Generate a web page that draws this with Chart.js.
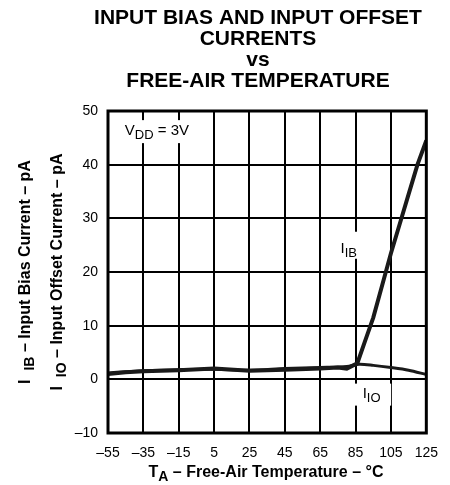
<!DOCTYPE html>
<html>
<head>
<meta charset="utf-8">
<script src="https://cdn.jsdelivr.net/npm/chart.js@4"></script>
<style>
  html, body { margin: 0; padding: 0; background: #fff; }
  #wrap { width: 450px; height: 485px; }
</style>
</head>
<body>
<div id="wrap"><canvas id="chart" width="450" height="485"></canvas></div>
<script>
const tempTicks = [-55, -35, -15, 5, 25, 45, 65, 85, 105, 125];

const ibTemps = [-55, -45, -35, -15, 5, 25, 45, 65, 75, 80, 86, 90, 95, 100, 105, 110, 115, 120, 125];
const ibValues = [1.0, 1.3, 1.5, 1.7, 2.0, 1.6, 1.8, 2.0, 2.2, 2.0, 3.0, 6.8, 11.5, 17.5, 23.5, 29, 34.5, 40, 44.5];

const iioTemps = [-55, -45, -35, -15, 5, 25, 45, 65, 80, 87, 95, 105, 115, 125];
const iioValues = [1.2, 1.4, 1.6, 1.8, 1.9, 1.7, 2.0, 2.2, 2.4, 2.8, 2.6, 2.2, 1.7, 0.9];

const titleLines = ["INPUT BIAS AND INPUT OFFSET", "CURRENTS", "vs", "FREE-AIR TEMPERATURE"];

const fontFamily = '"Liberation Sans", Arial, Helvetica, sans-serif';

const toPoints = (xs, ys) => xs.map((x, i) => ({x: x, y: ys[i]}));
const dash = (v) => String(v).replace('-', '\u2013');

// draw text made of parts, some of them subscripts
const drawRich = (ctx, parts, x, y, size, bold, align) => {
    const weight = bold ? 'bold ' : '';
    let total = 0;
    parts.forEach(p => {
        ctx.font = weight + (p.sub ? size - 2 : size) + 'px ' + fontFamily;
        p.w = ctx.measureText(p.t).width;
        total += p.w;
    });
    let cx = x;
    if (align === 'center') cx = x - total / 2;
    ctx.textAlign = 'left';
    ctx.textBaseline = 'alphabetic';
    parts.forEach(p => {
        ctx.font = weight + (p.sub ? size - 2 : size) + 'px ' + fontFamily;
        ctx.fillText(p.t, cx, p.sub ? y + 4 : y);
        cx += p.w;
    });
    return total;
};

const textPlugin = {
    id: 'texts',
    beforeDatasetsDraw(chart) {
        const ctx = chart.ctx;
        const xs = chart.scales.x, ys = chart.scales.y;
        ctx.save();
        ctx.fillStyle = '#fff';
        // white boxes behind the curve labels
        ctx.fillRect(xs.getPixelForValue(-47.5), ys.getPixelForValue(48.3), 71, 23);
        ctx.fillRect(xs.getPixelForValue(80.5), ys.getPixelForValue(27.5), 26, 27);
        ctx.fillRect(xs.getPixelForValue(82.5), ys.getPixelForValue(-0.8), 40, 22);
        ctx.fillStyle = '#000';
        drawRich(ctx, [{t: 'V'}, {t: 'DD', sub: true}, {t: ' = 3V'}],
                 xs.getPixelForValue(-45.5), ys.getPixelForValue(45.5), 15, false, 'left');
        drawRich(ctx, [{t: 'I'}, {t: 'IB', sub: true}],
                 xs.getPixelForValue(76.5), ys.getPixelForValue(23.5), 15, false, 'left');
        drawRich(ctx, [{t: 'I'}, {t: 'IO', sub: true}],
                 xs.getPixelForValue(89), ys.getPixelForValue(-3.5), 15, false, 'left');
        ctx.restore();
    },
    afterDraw(chart) {
        const ctx = chart.ctx;
        const a = chart.chartArea;
        ctx.save();
        ctx.strokeStyle = '#000';
        ctx.lineWidth = 3;
        ctx.strokeRect(a.left, a.top, a.right - a.left, a.bottom - a.top);

        ctx.fillStyle = '#000';
        ctx.textAlign = 'center';
        ctx.font = 'bold 21px ' + fontFamily;
        const baselines = [24, 45, 66, 87];
        titleLines.forEach((line, i) => ctx.fillText(line, 258, baselines[i]));

        drawRich(ctx, [{t: 'T'}, {t: 'A', sub: true}, {t: ' \u2013 Free-Air Temperature \u2013 \u00B0C'}],
                 266, 477, 16, true, 'center');

        const cy = (a.top + a.bottom) / 2;
        ctx.translate(30, cy);
        ctx.rotate(-Math.PI / 2);
        drawRich(ctx, [{t: 'I  '}, {t: 'IB', sub: true}, {t: ' \u2013 Input Bias Current \u2013 pA'}],
                 0, 0, 16, true, 'center');
        drawRich(ctx, [{t: 'I  '}, {t: 'IO', sub: true}, {t: ' \u2013 Input Offset Current \u2013 pA'}],
                 0, 32, 16, true, 'center');
        ctx.restore();
    }
};

new Chart(document.getElementById('chart'), {
    type: 'line',
    data: {
        datasets: [{
            label: 'IB',
            data: toPoints(ibTemps, ibValues),
            borderColor: '#1a1a1a',
            borderWidth: 4,
            pointRadius: 0,
            tension: 0
        },
        {
            label: 'IO',
            data: toPoints(iioTemps, iioValues),
            borderColor: '#1a1a1a',
            borderWidth: 3,
            pointRadius: 0,
            tension: 0.3
        }]
    },
    options: {
        responsive: false,
        animation: false,
        layout: {
            padding: {top: 111, right: 19, left: 0, bottom: 0}
        },
        plugins: {
            legend: {display: false},
            title: {display: false},
            tooltip: {enabled: false}
        },
        scales: {
            x: {
                type: 'linear',
                min: -55,
                max: 125,
                afterBuildTicks: (scale) => {
                    scale.ticks = tempTicks.map(v => ({value: v}));
                },
                afterFit: (scale) => { scale.height = 52; },
                grid: {color: '#000', lineWidth: 2, drawTicks: false},
                border: {display: false},
                ticks: {
                    color: '#000',
                    padding: 12,
                    maxRotation: 0,
                    autoSkip: false,
                    font: {family: fontFamily, size: 14},
                    callback: (v) => dash(v)
                }
            },
            y: {
                min: -10,
                max: 50,
                afterFit: (scale) => { scale.width = 108; },
                grid: {color: '#000', lineWidth: 2, drawTicks: false},
                border: {display: false},
                ticks: {
                    stepSize: 10,
                    color: '#000',
                    padding: 10,
                    font: {family: fontFamily, size: 14},
                    callback: (v) => dash(v)
                }
            }
        }
    },
    plugins: [textPlugin]
});
</script>
</body>
</html>
